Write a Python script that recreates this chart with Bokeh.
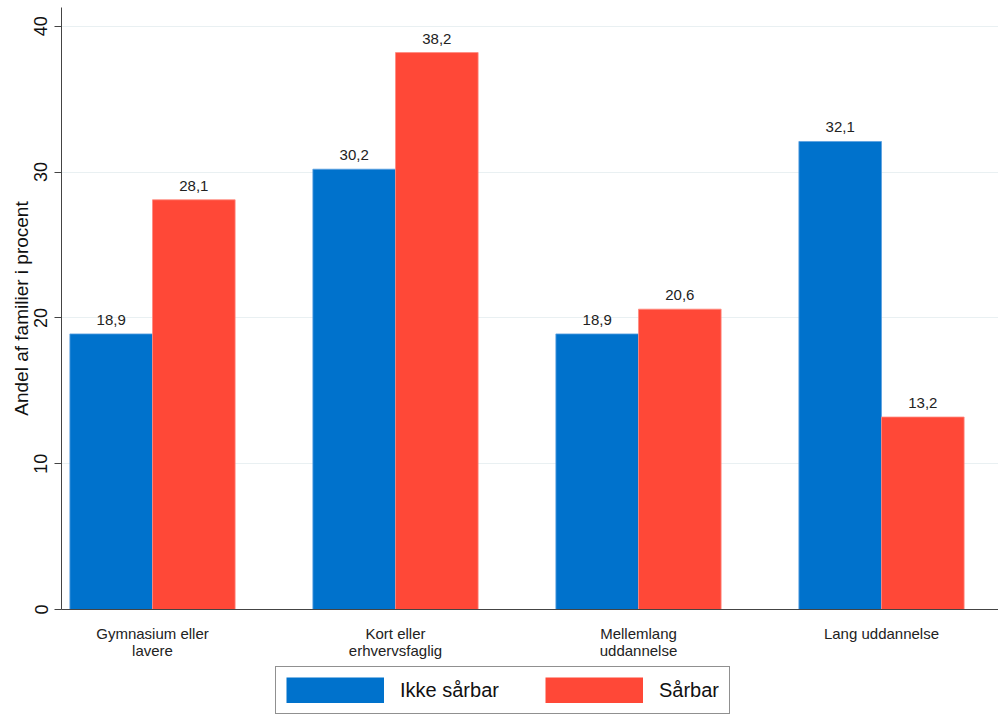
from bokeh.plotting import figure
from bokeh.models import (ColumnDataSource, Range1d, FixedTicker, Legend, LegendItem)
from bokeh.layouts import column
from bokeh.core.properties import value
from bokeh.embed import file_html
from bokeh.resources import INLINE

categories = ["Gymnasium eller\nlavere", "Kort eller\nerhvervsfaglig", "Mellemlang\nuddannelse", "Lang uddannelse"]
ikke_saarbar = [18.9, 30.2, 18.9, 32.1]
saarbar = [28.1, 38.2, 20.6, 13.2]
series_names = ["Ikke sårbar", "Sårbar"]
y_ticks = [0, 10, 20, 30, 40]

BLUE = "#0072CC"
RED = "#FF4837"
FONT = "Liberation Sans"
BW = 0.34

idx = list(range(len(categories)))

def fmt(v):
    return f"{v:.1f}".replace(".", ",")

src_a = ColumnDataSource(dict(x=[i - BW / 2 for i in idx], top=ikke_saarbar,
                              lab=[fmt(v) for v in ikke_saarbar]))
src_b = ColumnDataSource(dict(x=[i + BW / 2 for i in idx], top=saarbar,
                              lab=[fmt(v) for v in saarbar]))

p = figure(width=998, height=661, output_backend="svg", toolbar_location=None,
           x_range=Range1d(-0.3745, 3.4815), y_range=Range1d(0, 41.29),
           min_border_left=61, min_border_right=0, min_border_top=7, min_border_bottom=45)
p.outline_line_color = None
p.background_fill_color = "white"
p.border_fill_color = "white"

p.vbar(x="x", top="top", width=BW, source=src_a, fill_color=BLUE,
       line_color="#5a9fe0", line_width=0.8)
p.vbar(x="x", top="top", width=BW, source=src_b, fill_color=RED,
       line_color="#ff8a80", line_width=0.8)

for s in (src_a, src_b):
    p.text(x="x", y="top", text="lab", source=s, text_align="center",
           text_baseline="bottom", y_offset=-9, text_font=value(FONT),
           text_font_size="15px", text_color="#222222")

# axes
p.xgrid.grid_line_color = None
p.ygrid.grid_line_color = "#e9f0f2"
p.ygrid.grid_line_width = 1
p.ygrid.ticker = FixedTicker(ticks=y_ticks)

p.yaxis.ticker = FixedTicker(ticks=y_ticks)
p.yaxis.major_label_orientation = "vertical"
p.yaxis.major_label_text_font = FONT
p.yaxis.major_label_text_font_size = "18px"
p.yaxis.major_label_text_color = "#111111"
p.yaxis.major_tick_out = 7
p.yaxis.major_tick_in = 0
p.yaxis.minor_tick_line_color = None
p.yaxis.axis_line_color = "#444444"
p.yaxis.major_tick_line_color = "#444444"
p.yaxis.major_label_standoff = 7
p.yaxis.axis_label = "Andel af familier i procent"
p.yaxis.axis_label_text_font = FONT
p.yaxis.axis_label_text_font_style = "normal"
p.yaxis.axis_label_text_font_size = "19px"
p.yaxis.axis_label_text_color = "#111111"
p.yaxis.axis_label_standoff = 0

p.xaxis.ticker = FixedTicker(ticks=idx)
p.xaxis.major_label_overrides = {i: c for i, c in zip(idx, categories)}
p.xaxis.major_label_text_font = FONT
p.xaxis.major_label_text_font_size = "15px"
p.xaxis.major_label_text_line_height = 1.0
p.xaxis.major_label_text_color = "#222222"
p.xaxis.major_tick_line_color = None
p.xaxis.minor_tick_line_color = None
p.xaxis.axis_line_color = "#444444"
p.xaxis.major_label_standoff = 9

# legend panel below the chart (hidden series renderers supply the legend glyphs)
lg = figure(width=998, height=54, output_backend="svg", toolbar_location=None,
            x_range=Range1d(0, 1), y_range=Range1d(0, 1),
            x_axis_type=None, y_axis_type=None,
            min_border_left=0, min_border_right=0, min_border_top=0, min_border_bottom=0)
lg.outline_line_color = None
lg.xgrid.grid_line_color = None
lg.ygrid.grid_line_color = None
l1 = lg.line(x=idx, y=ikke_saarbar, line_color=BLUE, line_width=26, line_cap="butt", visible=False)
l2 = lg.line(x=idx, y=saarbar, line_color=RED, line_width=26, line_cap="butt", visible=False)

legend = Legend(items=[LegendItem(label=series_names[0], renderers=[l1]),
                       LegendItem(label=series_names[1], renderers=[l2])],
                orientation="horizontal", location=(214, 1))
legend.glyph_width = 98
legend.glyph_height = 26
legend.label_text_font = FONT
legend.label_text_font_size = "20px"
legend.label_text_color = "#111111"
legend.label_standoff = 16
legend.spacing = 46
legend.padding = 10
legend.margin = 0
legend.border_line_color = "#222222"
legend.border_line_width = 1.3
legend.background_fill_color = "white"
lg.add_layout(legend, "center")

layout = column(p, lg, spacing=0)
open("out.html", "w").write(file_html(layout, INLINE))
